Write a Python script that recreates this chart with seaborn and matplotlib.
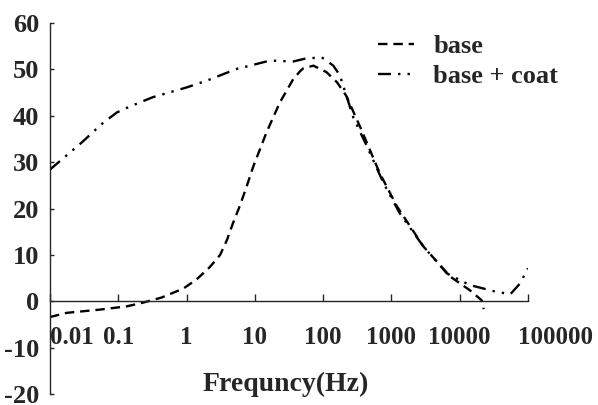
import numpy as np
import pandas as pd
import matplotlib
matplotlib.use('Agg')
import matplotlib.pyplot as plt
import matplotlib.transforms as mtransforms
import seaborn as sns

# Datos
freq_base = [0.01, 0.0176, 0.054, 0.133, 0.23, 0.43, 0.9, 1.4, 2.2, 3.1, 3.9, 4.8, 6.0,
             7.6, 9.5, 14.8, 23.3, 36.5, 46, 51, 72, 112, 160, 218, 360, 670, 1200,
             2940, 7300, 14000, 21000, 22500]
base_db = [-3.4, -2.5, -1.8, -1.1, -0.3, 0.8, 2.75, 4.7, 7.4, 10.0, 13.2, 16.9, 20.5,
           24.8, 29.1, 36.4, 42.9, 47.9, 49.6, 50.2, 50.8, 49.4, 47.2, 44.3, 37.1, 27.7, 20.5,
           11.8, 5.3, 2.4, 0.2, -1.7]

freq_coat = [0.01, 0.029, 0.057, 0.095, 0.148, 0.32, 1, 2, 5.4, 8, 16.6, 36.5, 54, 95,
             112, 141, 176, 277, 435, 765, 1320, 2940, 6500, 14000, 31000, 55000, 76000, 100000]
coat_db = [28.4, 34.2, 38.2, 40.7, 42.0, 44.0, 46.1, 47.6, 50.1, 50.7, 51.9, 51.7, 52.3,
           52.6, 51.9, 50.8, 48.7, 39.6, 33.5, 25.5, 19.0, 11.8, 6.0, 3.5, 2.2, 1.5, 3.8, 7.1]

series_names = ['base', 'base + coat']
x_ticks = [0.01, 0.1, 1, 10, 100, 1000, 10000, 100000]
x_tick_labels = ['0.01', '0.1', '1', '10', '100', '1000', '10000', '100000']
y_ticks = [-20, -10, 0, 10, 20, 30, 40, 50, 60]

df = pd.concat([
    pd.DataFrame({'freq': freq_base, 'db': base_db, 'serie': series_names[0]}),
    pd.DataFrame({'freq': freq_coat, 'db': coat_db, 'serie': series_names[1]}),
], ignore_index=True)

sns.set_style('ticks')
plt.rcParams['font.family'] = ['Liberation Serif', 'DejaVu Serif']
plt.rcParams['font.weight'] = 'bold'
plt.rcParams['axes.unicode_minus'] = False

fig = plt.figure(figsize=(5.98, 4.05), dpi=100)
ax = fig.add_axes([50 / 598, 1 - 394 / 405, 478 / 598, 371 / 405])

sns.lineplot(data=df, x='freq', y='db', style='serie', style_order=series_names,
             dashes={'base': (4.0, 2.5), 'base + coat': (5.5, 3, 1, 3, 1, 3)},
             color='black', linewidth=1.7, estimator=None, sort=False, ax=ax)

ax.set_xscale('log')
ax.set_xlim(0.01, 100000)
ax.set_ylim(-20, 60)

# Ejes
ax.spines['top'].set_visible(False)
ax.spines['right'].set_visible(False)
ax.spines['bottom'].set_position(('data', 0))
ax.spines['left'].set_linewidth(1.0)
ax.spines['bottom'].set_linewidth(1.0)

ax.set_yticks(y_ticks)
ax.set_xticks(x_ticks)
ax.set_xticklabels(x_tick_labels)
ax.tick_params(axis='y', direction='in', length=3, width=1, pad=8, labelsize=19)
ax.tick_params(axis='x', which='major', direction='in', length=5, width=1, pad=17.5, labelsize=18)
ax.tick_params(axis='x', which='minor', direction='in', length=3, width=0.8)

for lab in ax.get_yticklabels() + ax.get_xticklabels():
    lab.set_fontweight('bold')

labels = ax.get_xticklabels()
labels[0].set_horizontalalignment('left')
labels[-1].set_transform(labels[-1].get_transform() +
                         mtransforms.ScaledTranslation(0.28, 0, fig.dpi_scale_trans))

ax.set_ylabel('')
ax.set_xlabel('Frequncy(Hz)', fontsize=20, fontweight='bold', va='center')
ax.xaxis.set_label_coords(0.494, 0.025)

leg = ax.legend(loc='upper left', bbox_to_anchor=(378 / 598, 1 - 35 / 405),
                bbox_transform=fig.transFigure, frameon=False, fontsize=19,
                handlelength=1.35, handletextpad=0.75, labelspacing=0.22,
                borderpad=0, borderaxespad=0)
for t in leg.get_texts():
    t.set_fontweight('bold')

fig.savefig('out.png', dpi=100)
